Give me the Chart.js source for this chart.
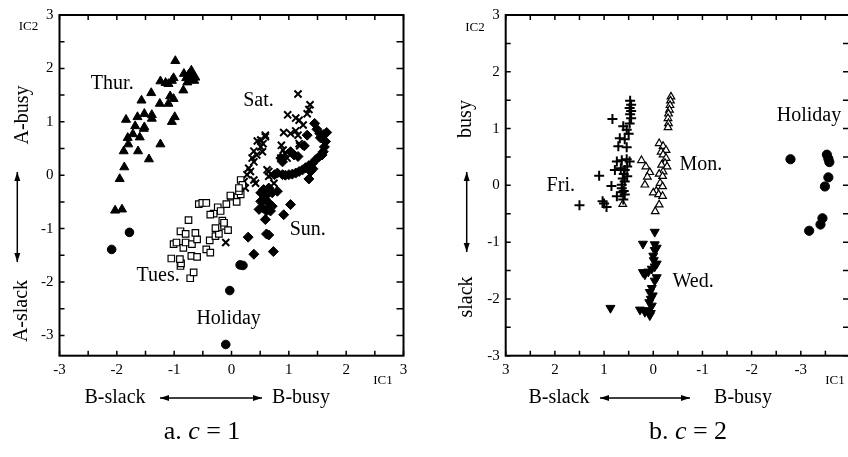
<!DOCTYPE html>
<html><head><meta charset="utf-8">
<script src="https://cdn.jsdelivr.net/npm/chart.js@4.4.0/dist/chart.umd.min.js"></script>
<style>
html,body{margin:0;padding:0;background:#fff;width:848px;height:457px;overflow:hidden;}
#wrapA{position:absolute;left:0;top:0;width:424px;height:457px;}
#wrapB{position:absolute;left:424px;top:0;width:430px;height:457px;}
canvas{display:block;}
</style></head><body>
<div id="wrapA"><canvas id="cA" width="424" height="457" style="width:424px;height:457px"></canvas></div>
<div id="wrapB"><canvas id="cB" width="430" height="457" style="width:430px;height:457px"></canvas></div>
<script>
// ---------- panel a (c = 1) ----------
const thur = [[-1.95,-0.07],[-1.87,0.15],[-1.88,0.45],[-1.80,0.58],[-1.81,0.70],[-1.72,0.77],[-1.68,0.92],[-1.84,1.04],[-1.63,0.45],[-1.60,0.71],[-1.64,1.09],[-1.53,0.87],[-1.52,0.90],[-1.57,1.40],[-1.52,1.15],[-1.39,1.13],[-1.39,1.06],[-1.44,0.30],[-1.40,1.54],[-1.24,0.58],[-1.25,1.34],[-1.24,1.76],[-1.10,1.34],[-1.10,1.71],[-1.07,1.48],[-1.04,1.77],[-1.01,1.43],[-1.04,1.00],[-0.99,1.09],[-0.98,2.14],[-1.01,1.82],[-0.84,1.59],[-0.83,1.90],[-0.79,1.82],[-0.70,1.96],[-0.73,1.79],[-0.65,1.77],[-0.69,1.84],[-0.77,1.74],[-0.63,1.83],[-2.03,-0.66],[-1.91,-0.64],[-1.15,1.73],[-0.75,1.88],[-0.67,1.86]];
const holidayA = [[-2.09,-1.39],[-1.78,-1.07],[0.15,-1.68],[0.20,-1.69],[-0.03,-2.16],[-0.10,-3.17]];
const tues = [[-0.72,-1.93],[-0.66,-1.82],[-0.89,-1.70],[-0.88,-1.65],[-1.05,-1.56],[-0.90,-1.57],[-0.70,-1.51],[-0.60,-1.53],[-1.01,-1.29],[-0.96,-1.26],[-0.84,-1.36],[-0.80,-1.26],[-0.69,-1.29],[-0.60,-1.20],[-0.89,-1.05],[-0.80,-1.10],[-0.63,-1.08],[-0.75,-0.84],[-0.44,-1.39],[-0.37,-1.45],[-0.38,-1.22],[-0.28,-1.14],[-0.22,-1.10],[-0.28,-0.99],[-0.13,-0.95],[-0.06,-1.03],[-0.16,-0.85],[-0.13,-0.89],[-0.31,-0.72],[-0.37,-0.74],[-0.57,-0.54],[-0.51,-0.52],[-0.44,-0.52],[-0.24,-0.60],[-0.19,-0.67],[-0.09,-0.54],[-0.01,-0.40],[0.09,-0.50],[0.16,-0.36],[0.13,-0.30],[0.16,-0.09],[0.19,-0.18],[0.13,-0.24],[-0.02,-0.38]];
const sat = [[1.16,1.52],[1.37,1.32],[1.35,1.23],[1.32,1.15],[0.98,1.13],[1.12,1.07],[1.18,1.03],[1.25,0.94],[0.91,0.80],[1.03,0.78],[1.12,0.83],[1.16,0.75],[1.18,0.59],[1.19,0.55],[0.59,0.75],[0.51,0.66],[0.55,0.59],[0.51,0.53],[0.54,0.44],[0.39,0.45],[0.44,0.38],[0.36,0.32],[0.39,0.25],[0.87,0.56],[0.90,0.47],[0.93,0.41],[0.86,0.32],[0.97,0.32],[0.65,0.07],[0.70,0.01],[0.74,-0.15],[0.65,-0.02],[0.30,0.13],[0.33,0.07],[0.27,0.01],[0.39,-0.09],[0.42,-0.15],[0.24,-0.24],[0.22,-0.12],[-0.10,-1.26],[0.45,0.64],[0.59,0.72],[0.62,0.10]];
const sun = [[1.45,0.97],[1.49,0.86],[1.54,0.78],[1.61,0.76],[1.66,0.80],[1.32,0.75],[1.64,0.63],[1.62,0.53],[1.60,0.44],[1.58,0.38],[1.53,0.35],[1.47,0.29],[1.41,0.22],[1.35,0.18],[1.29,0.14],[1.24,0.10],[1.18,0.07],[1.12,0.04],[1.06,0.02],[1.00,0.01],[0.94,0.00],[0.89,0.01],[0.80,0.04],[0.75,0.01],[1.38,0.07],[1.35,-0.07],[1.03,0.44],[1.09,0.38],[1.16,0.35],[0.89,0.25],[0.86,0.32],[0.56,-0.27],[0.65,-0.24],[0.51,-0.33],[0.62,-0.36],[0.71,-0.33],[0.80,-0.30],[0.51,-0.49],[0.58,-0.44],[0.65,-0.52],[0.71,-0.58],[0.54,-0.61],[0.61,-0.67],[0.68,-0.67],[0.48,-0.64],[0.59,-0.83],[1.03,-0.55],[0.91,-0.74],[0.29,-1.16],[0.61,-1.10],[0.65,-1.12],[0.39,-1.48],[0.73,-1.43],[1.55,0.70],[1.27,0.55],[1.42,0.12]];

// ---------- panel b (c = 2) ----------
const fri = [[0.83,1.17],[1.10,0.17],[1.00,-0.32],[0.95,-0.38],[0.47,1.49],[0.45,1.42],[0.48,1.36],[0.45,1.31],[0.47,1.25],[0.45,1.18],[0.48,1.09],[0.61,1.04],[0.54,0.98],[0.68,0.83],[0.58,0.81],[0.71,0.69],[0.54,0.67],[0.50,0.91],[0.74,0.42],[0.64,0.44],[0.54,0.46],[0.48,0.42],[0.78,0.27],[0.66,0.30],[0.58,0.27],[0.53,0.33],[0.85,-0.01],[0.64,0.01],[0.58,0.07],[0.53,0.16],[0.74,-0.19],[0.64,-0.12],[0.61,-0.25],[0.58,-0.16],[1.03,-0.28],[1.50,-0.35],[0.60,-0.10],[0.64,-0.05],[0.60,0.20],[0.62,0.12]];
const mon = [[-0.36,1.56],[-0.35,1.49],[-0.34,1.41],[-0.33,1.33],[-0.31,1.26],[-0.30,1.18],[-0.31,1.09],[-0.30,1.02],[-0.12,0.74],[-0.20,0.69],[-0.26,0.62],[-0.16,0.59],[-0.20,0.54],[0.24,0.44],[0.15,0.33],[0.07,0.23],[0.12,0.15],[0.17,0.01],[-0.26,0.48],[-0.24,0.39],[-0.17,0.36],[-0.28,0.33],[-0.20,0.24],[-0.12,0.20],[-0.19,0.16],[-0.14,0.04],[-0.19,-0.02],[-0.06,-0.10],[0.00,-0.13],[-0.11,-0.16],[-0.19,-0.19],[-0.12,-0.34],[-0.04,-0.46],[0.62,-0.33]];
const wed = [[-0.03,-0.82],[0.21,-1.03],[-0.03,-1.04],[-0.07,-1.10],[-0.03,-1.14],[0.00,-1.24],[-0.01,-1.32],[-0.07,-1.38],[-0.03,-1.43],[0.03,-1.47],[0.10,-1.52],[0.17,-1.57],[0.21,-1.53],[-0.07,-1.62],[-0.03,-1.68],[0.03,-1.81],[0.07,-1.88],[0.01,-1.94],[0.05,-2.00],[0.08,-2.06],[0.03,-2.12],[0.10,-2.20],[0.17,-2.23],[0.27,-2.19],[0.07,-2.29],[0.87,-2.16],[0.05,-2.25]];
const holidayB = [[-2.79,0.46],[-3.53,0.54],[-3.56,0.47],[-3.58,0.41],[-3.56,0.14],[-3.49,-0.02],[-3.44,-0.58],[-3.40,-0.69],[-3.17,-0.80]];

// ---------- tick labels / tick marks ----------
const xTickLabelsA = [-3,-2,-1,0,1,2,3];
const yTickLabelsA = [-3,-2,-1,0,1,2,3];
const xTickLabelsB = [3,2,1,0,-1,-2,-3];
const yTickLabelsB = [-3,-2,-1,0,1,2,3];
const xMarksA = [-3,-2.5,-2,-1.5,-1,-0.5,0,0.5,1,1.5,2,2.5,3];
const yMarksA = [-3,-2.5,-2,-1.5,-1,-0.5,0,0.5,1,1.5,2,2.5,3];
const xMarksB = [3,2.5,2,1.5,1,0.5,0,-0.5,-1,-1.5,-2,-2.5,-3,-3.5];
const yMarksB = [-3,-2.5,-2,-1.5,-1,-0.5,0,0.5,1,1.5,2,2.5,3];

const SERIF = '"Liberation Serif", "Times New Roman", serif';
function pts(a){ return a.map(p => ({x:p[0], y:p[1]})); }

function txt(ctx, s, x, y, size, align, italic){
  ctx.font = (italic ? 'italic ' : '') + size + 'px ' + SERIF;
  ctx.textAlign = align || 'center';
  ctx.textBaseline = 'middle';
  ctx.fillStyle = '#000';
  ctx.fillText(s, x, y);
}
function vtxt(ctx, s, x, y, size){
  ctx.save(); ctx.translate(x, y); ctx.rotate(-Math.PI/2);
  txt(ctx, s, 0, 0, size, 'center'); ctx.restore();
}
function head(ctx, x, y, ang){
  const L = 9, W = 3;
  ctx.beginPath();
  ctx.moveTo(x, y);
  ctx.lineTo(x - L*Math.cos(ang) + W*Math.sin(ang), y - L*Math.sin(ang) - W*Math.cos(ang));
  ctx.lineTo(x - L*Math.cos(ang) - W*Math.sin(ang), y - L*Math.sin(ang) + W*Math.cos(ang));
  ctx.closePath(); ctx.fill();
}
function arrow2(ctx, x1, y1, x2, y2){
  ctx.save(); ctx.strokeStyle = '#000'; ctx.fillStyle = '#000'; ctx.lineWidth = 1.5;
  ctx.beginPath(); ctx.moveTo(x1, y1); ctx.lineTo(x2, y2); ctx.stroke();
  const ang = Math.atan2(y2-y1, x2-x1);
  head(ctx, x2, y2, ang); head(ctx, x1, y1, ang + Math.PI);
  ctx.restore();
}
function caption(ctx, letter, cval, cx, cy, size){
  ctx.font = size + 'px ' + SERIF;
  const a = letter + ' ';
  const wa = ctx.measureText(a).width;
  ctx.font = 'italic ' + size + 'px ' + SERIF;
  const wc = ctx.measureText('c').width;
  ctx.font = size + 'px ' + SERIF;
  const rest = ' = ' + cval;
  const wr = ctx.measureText(rest).width;
  let x = cx - (wa + wc + wr)/2;
  txt(ctx, a, x, cy, size, 'left'); x += wa;
  txt(ctx, 'c', x, cy, size, 'left', true); x += wc;
  txt(ctx, rest, x, cy, size, 'left');
}

const decor = {
  id: 'decor',
  afterDraw(chart, args, o){
    const ctx = chart.ctx, a = chart.chartArea;
    const xs = chart.scales.x, ys = chart.scales.y;
    ctx.save();
    ctx.strokeStyle = '#000';
    ctx.lineWidth = 1.5;
    ctx.beginPath();
    for (const v of o.xMarks){
      const px = xs.getPixelForValue(v);
      ctx.moveTo(px, a.bottom); ctx.lineTo(px, a.bottom - 5);
      ctx.moveTo(px, a.top); ctx.lineTo(px, a.top + 5);
    }
    for (const v of o.yMarks){
      const py = ys.getPixelForValue(v);
      ctx.moveTo(a.left, py); ctx.lineTo(a.left + 5, py);
      ctx.moveTo(a.right, py); ctx.lineTo(a.right - 7, py);
    }
    ctx.stroke();
    ctx.lineWidth = 2;
    ctx.strokeRect(a.left, a.top, a.right - a.left, a.bottom - a.top);
    for (const l of o.labels){
      txt(ctx, l.t, xs.getPixelForValue(l.x), ys.getPixelForValue(l.y), 20, l.align || 'center');
    }
    const d = o.deco;
    txt(ctx, 'IC2', d.ic2[0], d.ic2[1], 13);
    vtxt(ctx, d.up, d.upPos[0], d.upPos[1], 20);
    vtxt(ctx, d.down, d.downPos[0], d.downPos[1], 20);
    arrow2(ctx, d.varrow[0], d.varrow[1], d.varrow[0], d.varrow[2]);
    txt(ctx, 'IC1', d.ic1[0], d.ic1[1], 13);
    txt(ctx, 'B-slack', d.bslack[0], d.bslack[1], 20);
    arrow2(ctx, d.harrow[0], d.harrow[2], d.harrow[1], d.harrow[2]);
    txt(ctx, 'B-busy', d.bbusy[0], d.bbusy[1], 20);
    caption(ctx, d.cap[0], d.cap[1], d.cap[2], d.cap[3], 26);
    ctx.restore();
  }
};

function makePanel(id, opt){
  const tickFont = {family: SERIF, size: 15};
  return new Chart(document.getElementById(id), {
    type: 'scatter',
    data: {datasets: opt.datasets},
    options: {
      responsive: false, animation: false, events: [],
      layout: {autoPadding: false, padding: {left: 0, top: opt.top, right: opt.right, bottom: 0}},
      plugins: {legend: {display: false}, tooltip: {enabled: false}, decor: opt.decor},
      scales: {
        x: {
          type: 'linear', min: opt.xmin, max: opt.xmax, reverse: !!opt.xrev,
          grid: {display: false, drawTicks: false}, border: {display: false},
          ticks: {font: tickFont, color: '#000', padding: 5, maxRotation: 0, autoSkip: false},
          afterBuildTicks: s => { s.ticks = opt.xt.map(v => ({value: v})); },
          afterFit: s => { s.height = opt.xh; }
        },
        y: {
          type: 'linear', min: opt.ymin, max: opt.ymax,
          grid: {display: false, drawTicks: false}, border: {display: false},
          ticks: {font: tickFont, color: '#000', padding: 6, autoSkip: false},
          afterBuildTicks: s => { s.ticks = opt.yt.map(v => ({value: v})); },
          afterFit: s => { s.width = opt.yw; }
        }
      }
    },
    plugins: [decor]
  });
}

makePanel('cA', {
  xmin: -3, xmax: 3, ymin: -3.38, ymax: 3, xt: xTickLabelsA, yt: yTickLabelsA,
  top: 12.3, right: 20.5, xh: 101.3, yw: 59.5,
  datasets: [
    {label: 'Thur.', data: pts(thur), pointStyle: 'triangle', pointRadius: 5.2, backgroundColor: '#000', borderColor: '#000', borderWidth: 1},
    {label: 'Tues.', data: pts(tues), pointStyle: 'rect', pointRadius: 4.6, backgroundColor: '#fff', borderColor: '#000', borderWidth: 1.2},
    {label: 'Sat.', data: pts(sat), pointStyle: 'crossRot', pointRadius: 5, backgroundColor: '#000', borderColor: '#000', borderWidth: 2},
    {label: 'Sun.', data: pts(sun), pointStyle: 'rectRot', pointRadius: 5, backgroundColor: '#000', borderColor: '#000', borderWidth: 1},
    {label: 'Holiday', data: pts(holidayA), pointStyle: 'circle', pointRadius: 4.3, backgroundColor: '#000', borderColor: '#000', borderWidth: 1}
  ],
  decor: {
    xMarks: xMarksA, yMarks: yMarksA,
    labels: [
      {t: 'Thur.', x: -2.08, y: 1.72}, {t: 'Sat.', x: 0.47, y: 1.39}, {t: 'Sun.', x: 1.33, y: -1.03},
      {t: 'Tues.', x: -1.28, y: -1.88}, {t: 'Holiday', x: -0.05, y: -2.68}
    ],
    deco: {ic2: [28.5, 27], up: 'A-busy', upPos: [23, 115], down: 'A-slack', downPos: [22, 311],
      varrow: [17.3, 172, 262], ic1: [383, 381], bslack: [115, 398], harrow: [160, 262, 398], bbusy: [301, 398],
      cap: ['a.', '1', 202, 432]}
  }
});

makePanel('cB', {
  xmin: -4, xmax: 3, xrev: true, ymin: -3, ymax: 3, xt: xTickLabelsB, yt: yTickLabelsB,
  top: 12.3, right: 4, xh: 101.3, yw: 81.7,
  datasets: [
    {label: 'Fri.', data: pts(fri), pointStyle: 'cross', pointRadius: 5, backgroundColor: '#000', borderColor: '#000', borderWidth: 2},
    {label: 'Mon.', data: pts(mon), pointStyle: 'triangle', pointRadius: 4.4, backgroundColor: '#fff', borderColor: '#000', borderWidth: 1.2},
    {label: 'Wed.', data: pts(wed), pointStyle: 'triangle', rotation: 180, pointRotation: 180, pointRadius: 5.2, backgroundColor: '#000', borderColor: '#000', borderWidth: 1},
    {label: 'Holiday', data: pts(holidayB), pointStyle: 'circle', pointRadius: 4.6, backgroundColor: '#000', borderColor: '#000', borderWidth: 1}
  ],
  decor: {
    xMarks: xMarksB, yMarks: yMarksB,
    labels: [
      {t: 'Fri.', x: 1.88, y: -0.01}, {t: 'Mon.', x: -0.97, y: 0.37}, {t: 'Wed.', x: -0.81, y: -1.70},
      {t: 'Holiday', x: -2.51, y: 1.22, align: 'left'}
    ],
    deco: {ic2: [51, 28], up: 'busy', upPos: [42, 119], down: 'slack', downPos: [43, 297],
      varrow: [42.7, 172, 252], ic1: [411, 381], bslack: [135, 398], harrow: [176, 266, 398], bbusy: [319, 398],
      cap: ['b.', '2', 264, 432]}
  }
});
</script>
</body></html>
